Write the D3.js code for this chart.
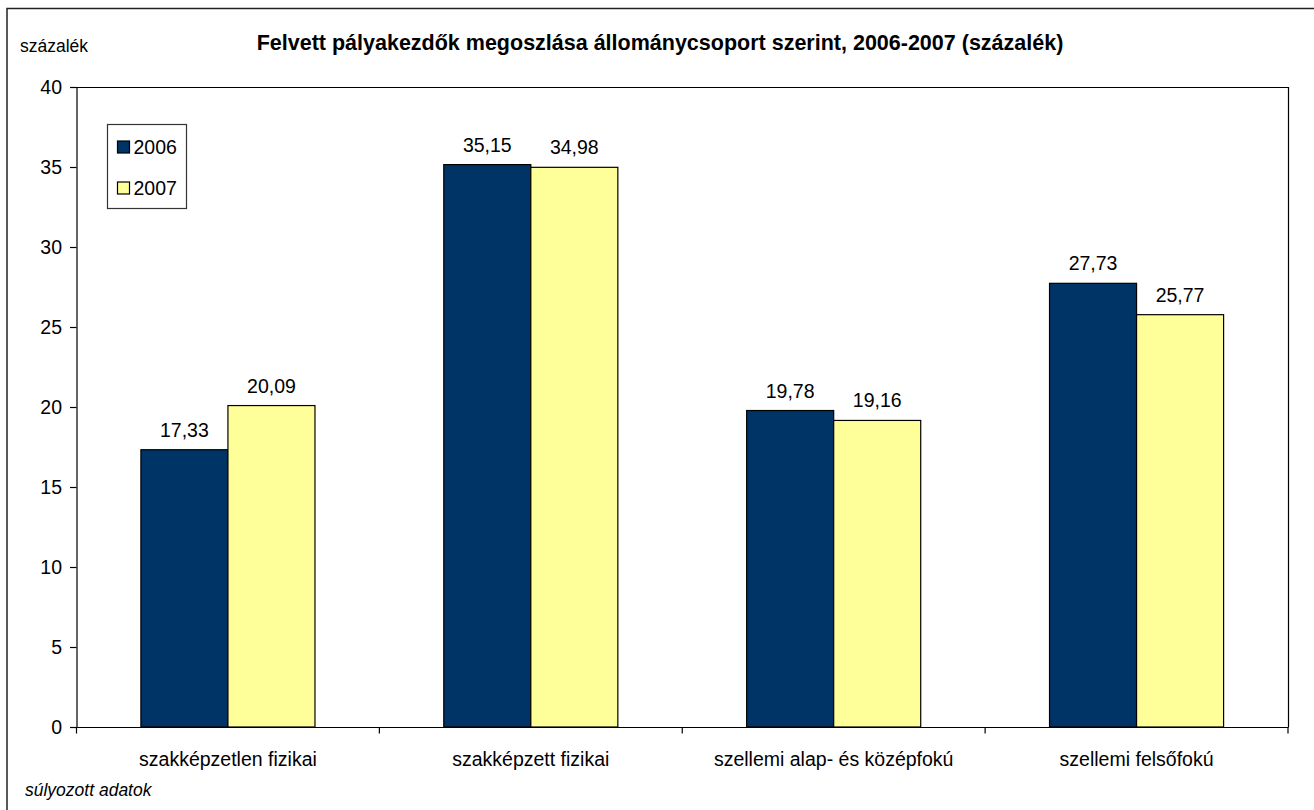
<!DOCTYPE html>
<html>
<head>
<meta charset="utf-8">
<script src="https://cdn.jsdelivr.net/npm/d3@7"></script>
<style>
  html, body { margin: 0; padding: 0; background: #fff; }
  svg { display: block; font-family: Arial, "Liberation Sans", sans-serif; }
</style>
</head>
<body>
<svg id="chart" width="1314" height="810"></svg>
<script>
const categories = ["szakképzetlen fizikai", "szakképzett fizikai", "szellemi alap- és középfokú", "szellemi felsőfokú"];
const seriesNames = ["2006", "2007"];
const values2006 = [17.33, 35.15, 19.78, 27.73];
const values2007 = [20.09, 34.98, 19.16, 25.77];
const yTicks = [0, 5, 10, 15, 20, 25, 30, 35, 40];
const colors = ["#003366", "#FFFF99"];
const titleText = "Felvett pályakezdők megoszlása állománycsoport szerint, 2006-2007 (százalék)";
const yUnitLabel = "százalék";
const noteText = "súlyozott adatok";

(function () {
const svg = d3.select("#chart");
const pLeft = 76.5, pRight = 1288, pTop = 87, pBottom = 727;

// outer frame
svg.append("rect").attr("x", 7).attr("y", 8.5).attr("width", 1330).attr("height", 830)
  .attr("fill", "none").attr("stroke", "#222").attr("stroke-width", 1.5);

const x0 = d3.scaleBand().domain(categories).range([pLeft, pRight]).padding(0);
const x1 = d3.scaleBand().domain(seriesNames).range([0, x0.bandwidth()]).paddingInner(0).paddingOuter(0.74);
const y = d3.scaleLinear().domain([0, 40]).range([pBottom, pTop]);

// plot border (top and right)
svg.append("path")
  .attr("d", `M${pLeft},${pTop + 0.5}H${pRight + 0.5}V${pBottom}`)
  .attr("fill", "none").attr("stroke", "#000").attr("stroke-width", 1.2);

// bars
const data = categories.map((c, i) => ({ cat: c, vals: [values2006[i], values2007[i]] }));
const groups = svg.append("g").selectAll("g").data(data).join("g")
  .attr("transform", d => `translate(${x0(d.cat)},0)`);

groups.selectAll("rect").data(d => d.vals.map((v, j) => ({ v, s: seriesNames[j], j })))
  .join("rect")
  .attr("x", d => x1(d.s))
  .attr("y", d => y(d.v))
  .attr("width", x1.bandwidth())
  .attr("height", d => y(0) - y(d.v))
  .attr("fill", d => colors[d.j])
  .attr("stroke", "#000").attr("stroke-width", 1.2);

const fmt = v => d3.format(".2f")(v).replace(".", ",");
groups.selectAll("text.val").data(d => d.vals.map((v, j) => ({ v, s: seriesNames[j] })))
  .join("text").attr("class", "val")
  .attr("x", d => x1(d.s) + x1.bandwidth() / 2)
  .attr("y", d => y(d.v) - 13)
  .attr("text-anchor", "middle")
  .attr("font-size", 19.5).attr("fill", "#000")
  .text(d => fmt(d.v));

// y axis
const yAxis = d3.axisLeft(y).tickValues(yTicks).tickSize(6.5).tickPadding(8).tickFormat(d3.format("d"));
const gy = svg.append("g").attr("transform", `translate(${pLeft},0)`).call(yAxis);
gy.select(".domain").attr("stroke", "#000").attr("stroke-width", 1.2);
gy.selectAll(".tick line").attr("stroke", "#000").attr("stroke-width", 1.2);
gy.selectAll(".tick text").attr("font-size", 19.5).attr("fill", "#000")
  .attr("font-family", "Arial, 'Liberation Sans', sans-serif");

// x axis
const xAxis = d3.axisBottom(x0).tickSize(0).tickPadding(25);
const gx = svg.append("g").attr("transform", `translate(0,${pBottom})`).call(xAxis);
gx.select(".domain").attr("stroke", "#000").attr("stroke-width", 1.2);
gx.selectAll(".tick text").attr("font-size", 19.5).attr("fill", "#000")
  .attr("font-family", "Arial, 'Liberation Sans', sans-serif");
// category boundary ticks
const boundaries = categories.map(c => x0(c)).concat([x0(categories[categories.length - 1]) + x0.bandwidth()]);
gx.selectAll("line.btick").data(boundaries).join("line").attr("class", "btick")
  .attr("x1", d => d).attr("x2", d => d).attr("y1", 0).attr("y2", 6.5)
  .attr("stroke", "#000").attr("stroke-width", 1.2);

// legend
const lg = svg.append("g");
lg.append("rect").attr("x", 107.5).attr("y", 124.5).attr("width", 79).attr("height", 84)
  .attr("fill", "#fff").attr("stroke", "#333").attr("stroke-width", 1.2);
seriesNames.forEach((s, i) => {
  const cy = 147 + i * 41;
  lg.append("rect").attr("x", 117.5).attr("y", cy - 6).attr("width", 12).attr("height", 12)
    .attr("fill", colors[i]).attr("stroke", "#000").attr("stroke-width", 1.2);
  lg.append("text").attr("x", 133.5).attr("y", cy + 7).attr("font-size", 19.5).attr("fill", "#000").text(s);
});

// title and labels
svg.append("text").attr("x", 660).attr("y", 50).attr("text-anchor", "middle")
  .attr("font-size", 21.5).attr("font-weight", "bold").attr("fill", "#000").text(titleText);
svg.append("text").attr("x", 20).attr("y", 52).attr("font-size", 17.5).attr("fill", "#000").text(yUnitLabel);
svg.append("text").attr("x", 25).attr("y", 796).attr("font-size", 17.5).attr("font-style", "italic")
  .attr("fill", "#000").text(noteText);
})();
</script>
</body>
</html>
